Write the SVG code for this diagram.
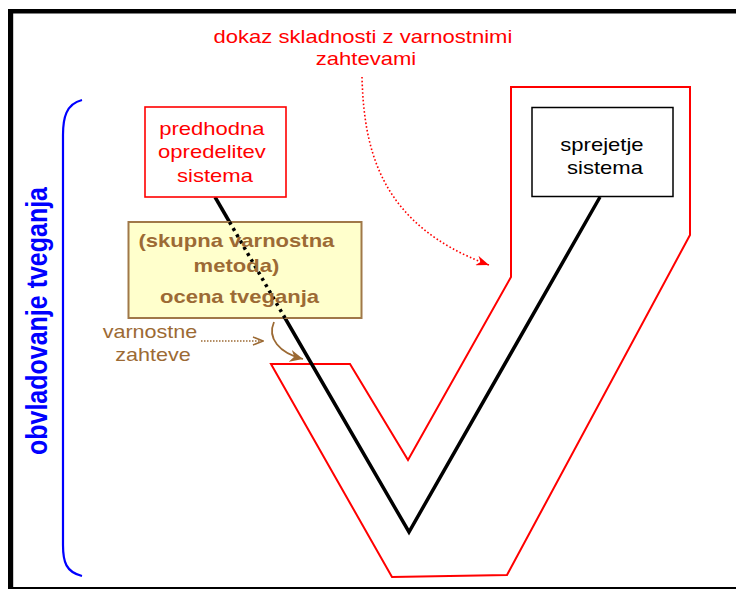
<svg xmlns="http://www.w3.org/2000/svg" width="736" height="589" viewBox="0 0 736 589">
  <defs>
    <style>
      .sans { font-family: "Liberation Sans", Arial, sans-serif; }
      .red-t { fill: #ff0000; font-size: 19px; }
      .blk-t { fill: #000000; font-size: 19px; }
      .brn-b { fill: #9c6a34; font-size: 19px; font-weight: bold; }
      .brn-t { fill: #9c6a34; font-size: 18.6px; }
      .blue-b { fill: #0000ff; font-size: 25px; font-weight: bold; }
      .vshape { fill: none; stroke: #ff0000; stroke-width: 2; stroke-linejoin: miter; }
      .lifeline { fill: none; stroke: #000000; stroke-width: 3.5; stroke-linejoin: miter; }
    </style>
    <marker id="arrRed" markerUnits="userSpaceOnUse" markerWidth="14" markerHeight="10" refX="13" refY="5" orient="auto">
      <path d="M0,0 L13,5 L0,10 L4,5 Z" fill="#ff0000"/>
    </marker>
    <marker id="arrBrown" markerUnits="userSpaceOnUse" markerWidth="14" markerHeight="12" refX="13" refY="6" orient="auto">
      <path d="M0,0 L13,6 L0,12 L4,6 Z" fill="#9c6a34"/>
    </marker>
    <marker id="chevBrown" markerUnits="userSpaceOnUse" markerWidth="12" markerHeight="10" refX="11" refY="5" orient="auto">
      <path d="M1,1 L11,5 L1,9" fill="none" stroke="#9c6a34" stroke-width="1.5"/>
    </marker>
  </defs>

  <rect x="0" y="0" width="736" height="589" fill="#ffffff"/>

  <!-- page frame -->
  <g id="frame">
    <rect x="8" y="9" width="728" height="4.5" fill="#000"/>
    <rect x="8" y="9" width="5.2" height="580" fill="#000"/>
    <rect x="8" y="587" width="728" height="2" fill="#000"/>
  </g>

  <!-- red V outline (verification envelope) -->
  <g id="v-envelope">
    <polygon class="vshape" points="511,87 690,87 690,235 507,575 392,577 271,364 350,364 408,460 511,277"/>
  </g>

  <!-- connectors -->
  <g id="connectors">
    <polyline class="lifeline" points="229.5,222 215,197"/>
    <polyline class="lifeline" points="285,318 409,532 600,197"/>
    <path d="M362,77 C364,150 380,225 489,265" fill="none" stroke="#ff0000" stroke-width="1.6" stroke-dasharray="1.6 2.2" marker-end="url(#arrRed)"/>
    <path d="M201,341 L263,341" fill="none" stroke="#9c6a34" stroke-width="1.5" stroke-dasharray="1.5 1.5" marker-end="url(#chevBrown)"/>
    <path d="M274,322 C267,338 279,353 303,359" fill="none" stroke="#9c6a34" stroke-width="1.8" marker-end="url(#arrBrown)"/>
  </g>

  <!-- risk assessment block -->
  <g id="ocena-tveganja">
    <rect x="128.5" y="222" width="233" height="96" fill="#ffffcc" stroke="#a07848" stroke-width="2"/>
    <line x1="229.5" y1="222" x2="285" y2="318" stroke="#000" stroke-width="3.5" stroke-dasharray="3 4.2"/>
    <text class="sans brn-b" text-anchor="middle" transform="matrix(1.16 0 0 1 239.5 247)">
      <tspan x="0" y="0">(skupna varnostna</tspan>
      <tspan x="0" y="25">metoda)</tspan>
      <tspan x="0" y="56">ocena tveganja</tspan>
    </text>
  </g>

  <!-- preliminary system definition -->
  <g id="predhodna-opredelitev">
    <rect x="145" y="107" width="141" height="90" fill="#ffffff" stroke="#ff0000" stroke-width="1.6"/>
    <text class="sans red-t" text-anchor="middle" transform="matrix(1.16 0 0 1 215 135)">
      <tspan x="0" y="0">predhodna</tspan>
      <tspan x="0" y="23.5">opredelitev</tspan>
      <tspan x="0" y="47">sistema</tspan>
    </text>
  </g>

  <!-- system acceptance -->
  <g id="sprejetje-sistema">
    <rect x="532" y="107.5" width="141" height="89" fill="#ffffff" stroke="#000000" stroke-width="1.5"/>
    <text class="sans blk-t" text-anchor="middle" transform="matrix(1.16 0 0 1 605 151)">
      <tspan x="0" y="0">sprejetje</tspan>
      <tspan x="0" y="23.5">sistema</tspan>
    </text>
  </g>

  <!-- compliance label -->
  <g id="dokaz-skladnosti">
    <text class="sans red-t" text-anchor="middle" transform="matrix(1.16 0 0 1 366 43)">
      <tspan x="0" y="0">dokaz skladnosti z varnostnimi</tspan>
      <tspan x="0" y="22.5">zahtevami</tspan>
    </text>
  </g>

  <!-- safety requirements label -->
  <g id="varnostne-zahteve">
    <text class="sans brn-t" text-anchor="middle" transform="matrix(1.16 0 0 1 153 338)">
      <tspan x="0" y="0">varnostne</tspan>
      <tspan x="0" y="23.5">zahteve</tspan>
    </text>
  </g>

  <!-- risk management brace -->
  <g id="obvladovanje-tveganja">
    <path d="M82,100 C66,104 63,118 63,135 L63,545 C63,562 66,572 82,576" fill="none" stroke="#0000ff" stroke-width="2.2"/>
    <text class="sans blue-b" text-anchor="middle" transform="translate(46.5 321) scale(1.16 1) rotate(-90)" x="0" y="0">obvladovanje tveganja</text>
  </g>
</svg>
